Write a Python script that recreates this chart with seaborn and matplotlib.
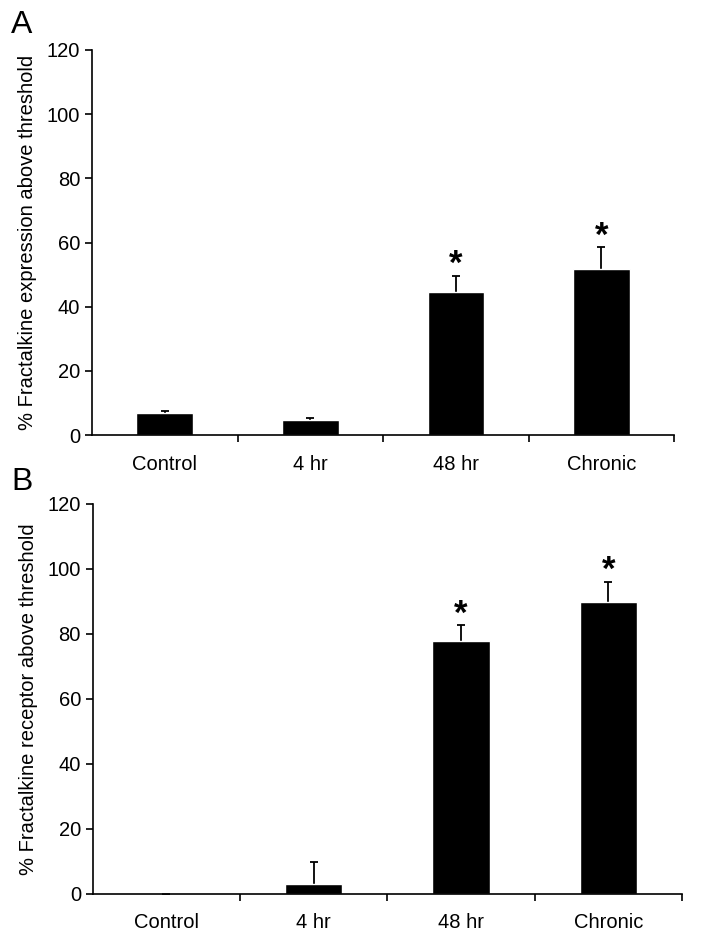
import matplotlib
matplotlib.use("Agg")
import matplotlib.pyplot as plt
import seaborn as sns
import numpy as np
import pandas as pd

# Data
groups = ["Control", "4 hr", "48 hr", "Chronic"]
expr_mean = [6.8, 4.7, 44.6, 51.9]
expr_err = [0.8, 0.6, 5.1, 6.6]
expr_sig = [False, False, True, True]
recep_mean = [0.0, 3.2, 77.7, 89.7]
recep_err = [0.0, 6.6, 4.9, 6.3]
recep_sig = [False, False, True, True]

sns.set_style("ticks")
plt.rcParams["font.family"] = ["Liberation Sans", "DejaVu Sans"]
plt.rcParams["text.color"] = "black"
plt.rcParams["axes.labelcolor"] = "black"
plt.rcParams["xtick.color"] = "black"
plt.rcParams["ytick.color"] = "black"

fig = plt.figure(figsize=(7.03, 9.40), dpi=100)
ax_a = fig.add_axes([0.131, 0.537, 0.828, 0.410])
ax_b = fig.add_axes([0.132, 0.049, 0.838, 0.415])


def draw_panel(ax, means, errs, sig, ylabel, letter, letter_y):
    df = pd.DataFrame({"group": groups, "value": means})
    sns.barplot(data=df, x="group", y="value", color="black", width=0.39,
                errorbar=None, ax=ax, saturation=1, zorder=2)
    x = np.arange(len(groups))
    # upper-only error bars; hide the lower cap
    eb = ax.errorbar(x, means, yerr=[np.zeros(len(errs)), errs], fmt="none",
                     ecolor="black", elinewidth=1.3, capsize=3, capthick=1.3,
                     zorder=1)
    eb[1][0].set_visible(False)
    for xi, m, e, s in zip(x, means, errs, sig):
        if s:
            ax.text(xi, m + e + 3.5, "*", ha="center", va="center",
                    fontsize=25, fontweight="bold")
    ax.set_xlim(-0.5, len(groups) - 0.5)
    ax.set_ylim(0, 120)
    ax.set_yticks(range(0, 121, 20))
    ax.set_xlabel("")
    ax.set_ylabel(ylabel, fontsize=14.5, labelpad=7)
    ax.set_xticks(x)
    ax.set_xticklabels(groups)
    ax.set_xticks(np.arange(0.5, len(groups)), minor=True)
    ax.tick_params(axis="x", which="major", length=0, labelsize=14.5, pad=14)
    ax.tick_params(axis="x", which="minor", length=5, width=1.2, direction="out")
    ax.tick_params(axis="y", length=5, width=1.2, labelsize=14.5, direction="out")
    for side in ["top", "right"]:
        ax.spines[side].set_visible(False)
    for side in ["left", "bottom"]:
        ax.spines[side].set_linewidth(1.2)
        ax.spines[side].set_color("black")
    fig.text(0.016, letter_y, letter, fontsize=23, va="center", ha="left")


draw_panel(ax_a, expr_mean, expr_err, expr_sig,
           "% Fractalkine expression above threshold", "A", 1 - 25 / 940)
draw_panel(ax_b, recep_mean, recep_err, recep_sig,
           "% Fractalkine receptor above threshold", "B", 1 - 482 / 940)

fig.savefig("out.png", dpi=100)
plt.close(fig)
